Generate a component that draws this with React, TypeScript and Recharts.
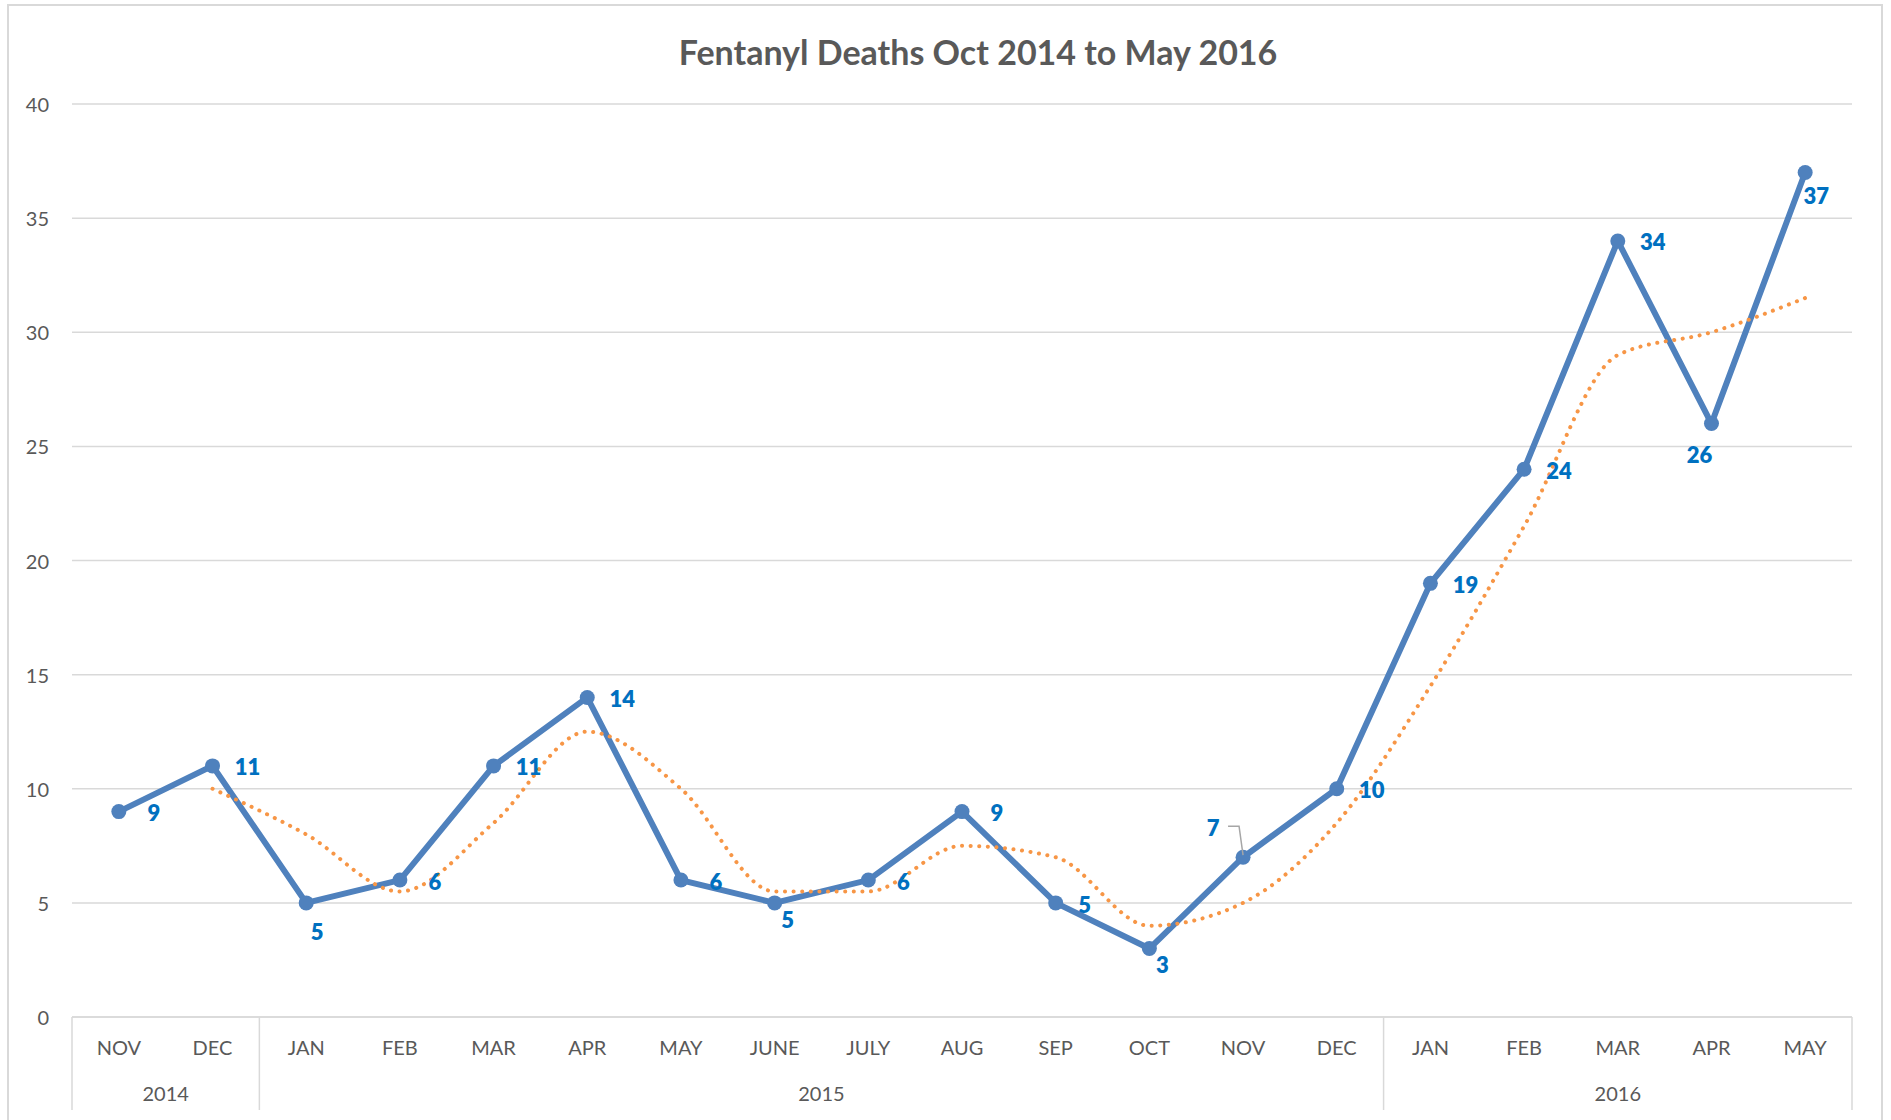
import { LineChart, Line, XAxis, YAxis, CartesianGrid, LabelList } from 'recharts';

// ── Data ─────────────────────────────────────────────────────────────

const months = ['NOV', 'DEC', 'JAN', 'FEB', 'MAR', 'APR', 'MAY', 'JUNE', 'JULY', 'AUG', 'SEP', 'OCT', 'NOV', 'DEC', 'JAN', 'FEB', 'MAR', 'APR', 'MAY'];
const deaths = [9, 11, 5, 6, 11, 14, 6, 5, 6, 9, 5, 3, 7, 10, 19, 24, 34, 26, 37];
// 2-period moving average trendline
const movingAvg = [null, 10, 8, 5.5, 8.5, 12.5, 10, 5.5, 5.5, 7.5, 7, 4, 5, 8.5, 14.5, 21.5, 29, 30, 31.5];
const yearGroups = [
  { year: '2014', span: 2 },
  { year: '2015', span: 12 },
  { year: '2016', span: 5 },
];
const yTicks = [0, 5, 10, 15, 20, 25, 30, 35, 40];

const chartData = months.map((m, i) => ({ month: m, deaths: deaths[i], avg: movingAvg[i] }));

// ── Layout ───────────────────────────────────────────────────────────

const W = 1891;
const H = 1120;
const PLOT_LEFT = 72;
const PLOT_RIGHT = 1852;
const PLOT_TOP = 104;
const PLOT_BOTTOM = 1017;
const BAND = (PLOT_RIGHT - PLOT_LEFT) / months.length;
const FONT = 'Lato, "Open Sans", sans-serif';
const GREY_TEXT = '#595959';
const GRID = '#D9D9D9';
const BLUE = '#4F81BD';
const ORANGE = '#F79646';
const LABEL_BLUE = '#0070C0';

// data label offsets (dx, dy) from the point, per month
const R: [number, number] = [35, 1];
const labelOffsets: [number, number][] = [
  R, R, [11, 29], R, R, R, R, [13, 17], R, R, [29, 2], [13, 16], [-30, -30], R, R, R, R, [-12, 31], [11, 23],
];

const groupStarts: Record<number, { year: string; span: number }> = {};
{
  let acc = 0;
  yearGroups.forEach((g) => {
    groupStarts[acc] = g;
    acc += g.span;
  });
}

function MonthTick(props: any) {
  const { x, y, payload } = props;
  const i = payload.index;
  const g = groupStarts[i];
  return (
    <g>
      <text x={x} y={y + 38} textAnchor="middle" fontSize={20} fill={GREY_TEXT} fontFamily={FONT}>
        {payload.value}
      </text>
      {g && (
        <>
          <line x1={x - BAND / 2} x2={x - BAND / 2} y1={y} y2={y + 93} stroke={GRID} strokeWidth={1.5} />
          <text
            x={x + ((g.span - 1) * BAND) / 2}
            y={y + 84}
            textAnchor="middle"
            fontSize={20}
            fill={GREY_TEXT}
            fontFamily={FONT}
          >
            {g.year}
          </text>
        </>
      )}
      {i === months.length - 1 && (
        <line x1={x + BAND / 2} x2={x + BAND / 2} y1={y} y2={y + 93} stroke={GRID} strokeWidth={1.5} />
      )}
    </g>
  );
}

function YTick(props: any) {
  const { x, y, payload } = props;
  return (
    <text x={x - 21} y={y} textAnchor="end" dominantBaseline="central" fontSize={20} fill={GREY_TEXT} fontFamily={FONT}>
      {payload.value}
    </text>
  );
}

function DataLabel(props: any) {
  const { x, y, value, index } = props;
  const [dx, dy] = labelOffsets[index] ?? R;
  return (
    <g>
      {index === 12 && (
        <polyline
          points={`${x - 15},${y - 31} ${x - 4},${y - 31} ${x},${y - 2}`}
          fill="none"
          stroke="#A6A6A6"
          strokeWidth={1.5}
        />
      )}
      <text
        x={x + dx}
        y={y + dy}
        textAnchor="middle"
        dominantBaseline="central"
        fontSize={22}
        fontWeight={800}
        fill={LABEL_BLUE}
        fontFamily={FONT}
      >
        {value}
      </text>
    </g>
  );
}

export default function App() {
  return (
    <div style={{ position: 'absolute', left: 0, top: 0, width: W, height: H, background: '#fff', overflow: 'hidden' }}>
      <div
        style={{
          position: 'absolute',
          left: 7,
          top: 4,
          width: 1876,
          height: H,
          border: `2px solid ${GRID}`,
          boxSizing: 'border-box',
        }}
      />
      <div
        style={{
          position: 'absolute',
          left: 978,
          top: 33,
          transform: 'translateX(-50%)',
          whiteSpace: 'nowrap',
          fontFamily: FONT,
          fontWeight: 700,
          fontSize: 34,
          lineHeight: '38px',
          color: GREY_TEXT,
        }}
      >
        Fentanyl Deaths Oct 2014 to May 2016
      </div>
      <div style={{ position: 'absolute', left: 0, top: 0 }}>
        <LineChart
          width={W}
          height={H}
          data={chartData}
          margin={{ top: PLOT_TOP, right: W - PLOT_RIGHT, bottom: 0, left: PLOT_LEFT - 60 }}
        >
          <CartesianGrid vertical={false} stroke={GRID} strokeWidth={1.5} />
          <XAxis
            dataKey="month"
            interval={0}
            height={H - PLOT_BOTTOM}
            tickSize={0}
            tickMargin={0}
            tickLine={false}
            axisLine={{ stroke: GRID, strokeWidth: 1.5 }}
            padding={{ left: BAND / 2, right: BAND / 2 }}
            tick={<MonthTick />}
          />
          <YAxis
            width={60}
            domain={[0, 40]}
            ticks={yTicks}
            axisLine={false}
            tickLine={false}
            tickSize={0}
            tick={<YTick />}
          />
          <Line
            type="linear"
            dataKey="deaths"
            stroke={BLUE}
            strokeWidth={6}
            dot={{ r: 7.5, fill: BLUE, stroke: BLUE, strokeWidth: 0 }}
            isAnimationActive={false}
          />
          <Line
            type="monotone"
            dataKey="avg"
            stroke={ORANGE}
            strokeWidth={4}
            strokeDasharray="0.1 8.5"
            strokeLinecap="round"
            dot={false}
            isAnimationActive={false}
          />
          <Line
            type="linear"
            dataKey="deaths"
            stroke="none"
            dot={false}
            isAnimationActive={false}
          >
            <LabelList dataKey="deaths" content={<DataLabel />} />
          </Line>
        </LineChart>
      </div>
    </div>
  );
}
